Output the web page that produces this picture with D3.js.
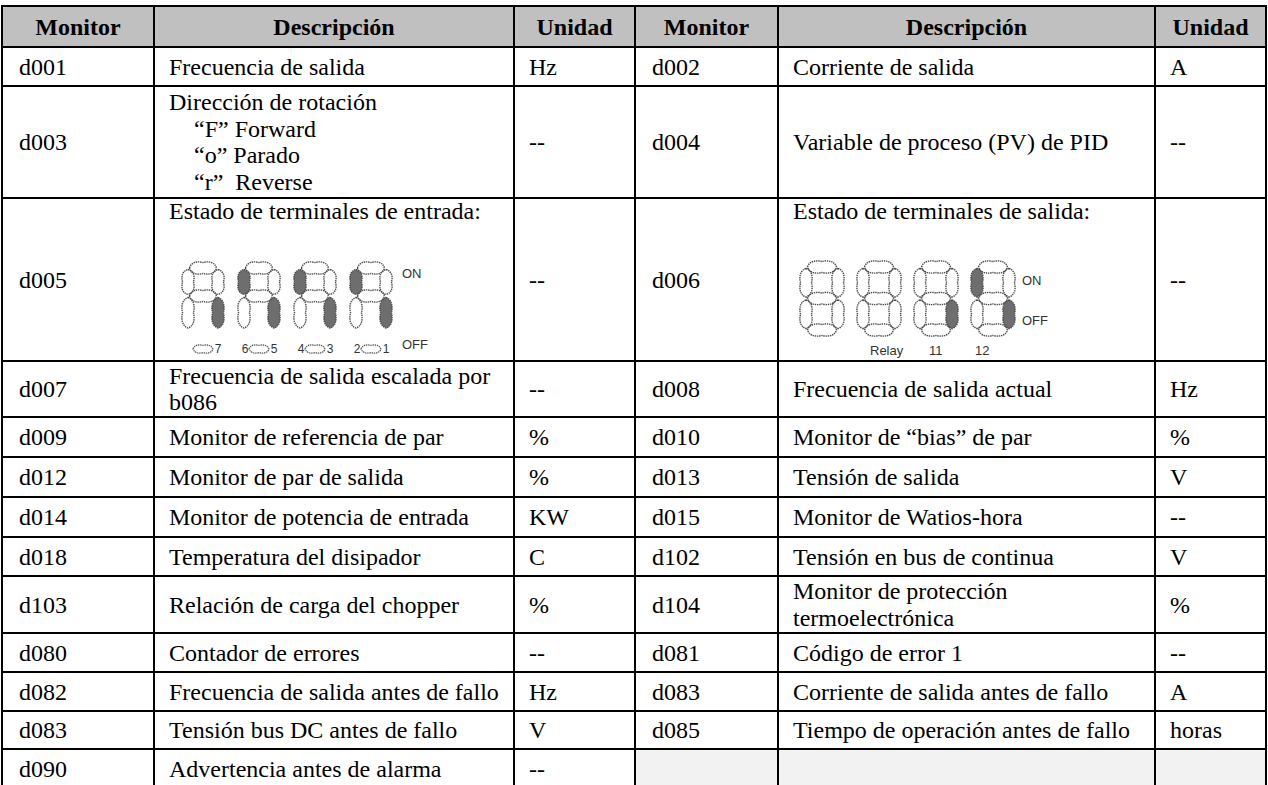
<!DOCTYPE html>
<html><head><meta charset="utf-8">
<script src="https://cdn.jsdelivr.net/npm/d3@7"></script>
<style>html,body{margin:0;padding:0;background:#fff;} svg{display:block;}</style>
</head><body>
<svg id="c" width="1268" height="785"></svg>
<script>
// ---------- data ----------
const headers = ["Monitor", "Descripción", "Unidad"];
const leftCodes = ["d001","d003","d005","d007","d009","d012","d014","d018","d103","d080","d082","d083","d090"];
const leftDesc = [
  ["Frecuencia de salida"],
  ["Dirección de rotación", "\u201CF\u201D Forward", "\u201Co\u201D Parado", "\u201Cr\u201D  Reverse"],
  ["Estado de terminales de entrada:"],
  ["Frecuencia de salida escalada por", "b086"],
  ["Monitor de referencia de par"],
  ["Monitor de par de salida"],
  ["Monitor de potencia de entrada"],
  ["Temperatura del disipador"],
  ["Relación de carga del chopper"],
  ["Contador de errores"],
  ["Frecuencia de salida antes de fallo"],
  ["Tensión bus DC antes de fallo"],
  ["Advertencia antes de alarma"]
];
const leftUnits = ["Hz","--","--","--","%","%","KW","C","%","--","Hz","V","--"];
const rightCodes = ["d002","d004","d006","d008","d010","d013","d015","d102","d104","d081","d083","d085",""];
const rightDesc = [
  ["Corriente de salida"],
  ["Variable de proceso (PV) de PID"],
  ["Estado de terminales de salida:"],
  ["Frecuencia de salida actual"],
  ["Monitor de \u201Cbias\u201D de par"],
  ["Tensión de salida"],
  ["Monitor de Watios-hora"],
  ["Tensión en bus de continua"],
  ["Monitor de protección", "termoelectrónica"],
  ["Código de error 1"],
  ["Corriente de salida antes de fallo"],
  ["Tiempo de operación antes de fallo"],
  []
];
const rightUnits = ["A","--","--","Hz","%","V","--","V","%","--","A","horas",""];
// 7-segment states (a top, b up-right, c low-right, d bottom, e low-left, f up-left, g middle)
const inputDigitsLit = [["c"], ["f","c"], ["f","c"], ["f","c"]];
const inputTermLabels = [["", "7"], ["6", "5"], ["4", "3"], ["2", "1"]];
const outputDigitsLit = [[], [], ["c"], ["f","c"]];
const outputTermLabels = ["Relay", "11", "12"];

// ---------- layout ----------
const rowEdges = [6, 47, 86, 198, 361, 417, 457, 497, 537, 576, 633, 672, 711, 749, 788];
const colEdges = [2, 154, 514, 635, 778, 1155, 1266];
const svg = d3.select("#c");
const serif = "'Liberation Serif','Times New Roman',serif";
const sans = "'Liberation Sans',Arial,sans-serif";
const FS = 24, PITCH = 26.5, PAD = 15;

svg.append("rect").attr("width",1268).attr("height",785).attr("fill","#fff");

svg.append("rect").attr("x",colEdges[0]).attr("y",rowEdges[0])
  .attr("width",colEdges[6]-colEdges[0]).attr("height",rowEdges[1]-rowEdges[0]).attr("fill","#c0c0c0");
const last = rowEdges.length-2;
svg.append("rect").attr("x",colEdges[3]).attr("y",rowEdges[last])
  .attr("width",colEdges[6]-colEdges[3]).attr("height",rowEdges[last+1]-rowEdges[last]).attr("fill","#f2f2f2");

const hdr = headers.concat(headers);
svg.append("g").selectAll("text").data(hdr).join("text")
  .attr("x",(d,i)=>(colEdges[i]+colEdges[i+1])/2)
  .attr("y",(rowEdges[0]+rowEdges[1])/2).attr("dy","0.34em")
  .attr("text-anchor","middle").attr("font-family",serif).attr("font-weight","bold")
  .attr("font-size",FS).attr("fill","#000").text(d=>d);

function cellText(g, x, y0, y1, lines, top) {
  const n = lines.length;
  const cy = (y0+y1)/2;
  lines.forEach((t,k)=>{
    let y = top ? y0 + 13 + k*PITCH : cy + (k-(n-1)/2)*PITCH;
    let xx = x;
    if (lines.length===4 && k>0) xx = x + 25;
    g.append("text").attr("x",xx).attr("y",y).attr("dy","0.34em")
      .attr("font-family",serif).attr("font-size",FS).attr("fill","#000")
      .attr("xml:space","preserve").style("white-space","pre").text(t);
  });
}

const body = svg.append("g");
function half(codes, descs, units, c0) {
  codes.forEach((code,i)=>{
    const y0 = rowEdges[i+1], y1 = rowEdges[i+2];
    if (code) cellText(body, colEdges[c0]+PAD+2, y0, y1, [code], false);
    const isDisplay = (code==="d005"||code==="d006");
    cellText(body, colEdges[c0+1]+PAD, y0, y1, descs[i], isDisplay);
    if (units[i]) cellText(body, colEdges[c0+2]+PAD, y0, y1, [units[i]], false);
  });
}
half(leftCodes, leftDesc, leftUnits, 0);
half(rightCodes, rightDesc, rightUnits, 3);

// ---------- 7-segment drawings ----------
function vSeg(cx, y1, y2, t) {
  const m = (y1+y2)/2;
  return `M${cx},${y1} C${cx+t*0.75},${y1+2} ${cx+t*0.75},${m-4} ${cx+t*0.6},${m} C${cx+t*0.75},${m+4} ${cx+t*0.75},${y2-2} ${cx},${y2} C${cx-t*0.75},${y2-2} ${cx-t*0.75},${m+4} ${cx-t*0.6},${m} C${cx-t*0.75},${m-4} ${cx-t*0.75},${y1+2} ${cx},${y1}Z`;
}
function hSeg(cy, x1, x2, t) {
  const m = (x1+x2)/2;
  return `M${x1},${cy} C${x1+2},${cy-t*0.75} ${m-4},${cy-t*0.75} ${m},${cy-t*0.6} C${m+4},${cy-t*0.75} ${x2-2},${cy-t*0.75} ${x2},${cy} C${x2-2},${cy+t*0.75} ${m+4},${cy+t*0.75} ${m},${cy+t*0.6} C${m-4},${cy+t*0.75} ${x1+2},${cy+t*0.75} ${x1},${cy}Z`;
}
function digit(g, x0, y0, W, H, lit, segs, pointed) {
  const t = 9, gap = 1.5;
  const geo = {
    a: hSeg(y0, x0+gap, x0+W-gap, t),
    g: hSeg(y0+H/2, x0+gap, x0+W-gap, t),
    d: hSeg(y0+H, x0+gap, x0+W-gap, t),
    f: vSeg(x0, y0+gap, y0+H/2-gap, t),
    b: vSeg(x0+W, y0+gap, y0+H/2-gap, t),
    e: vSeg(x0, y0+H/2+gap, y0+H+(pointed?4:-gap), t),
    c: vSeg(x0+W, y0+H/2+gap, y0+H+(pointed?4:-gap), t)
  };
  segs.forEach(s=>{
    g.append("path").attr("d",geo[s])
      .attr("fill", lit.includes(s) ? "#6e6e6e" : "none")
      .attr("stroke","#4a4a4a").attr("stroke-width",1.4).attr("stroke-dasharray","1.4,0.8");
  });
}
const seg = svg.append("g");
const inX = d3.scaleLinear().domain([0,3]).range([188,356]);
inputDigitsLit.forEach((lit,i)=>{
  const x0 = inX(i);
  digit(seg, x0, 268, 30, 56, lit, ["a","b","c","e","f","g"], true);
  seg.append("path").attr("d", hSeg(349, x0+5, x0+25, 6))
    .attr("fill","none").attr("stroke","#4a4a4a").attr("stroke-width",1.2).attr("stroke-dasharray","1.4,0.8");
  const [l,r] = inputTermLabels[i];
  if (l) seg.append("text").attr("x",x0+1).attr("y",349).attr("dy","0.36em").attr("text-anchor","middle")
    .attr("font-family",sans).attr("font-size",12).attr("fill","#333").text(l);
  seg.append("text").attr("x",x0+30).attr("y",349).attr("dy","0.36em").attr("text-anchor","middle")
    .attr("font-family",sans).attr("font-size",12).attr("fill","#333").text(r);
});
seg.append("text").attr("x",402).attr("y",273).attr("dy","0.36em").attr("font-family",sans)
  .attr("font-size",13).attr("fill","#333").text("ON");
seg.append("text").attr("x",402).attr("y",344).attr("dy","0.36em").attr("font-family",sans)
  .attr("font-size",13).attr("fill","#333").text("OFF");

const outX = d3.scaleLinear().domain([0,3]).range([806,977]);
outputDigitsLit.forEach((lit,i)=>{
  digit(seg, outX(i), 267, 32, 63, lit, ["a","b","c","d","e","f","g"], false);
});
seg.append("text").attr("x",1022).attr("y",280).attr("dy","0.36em").attr("font-family",sans)
  .attr("font-size",13).attr("fill","#333").text("ON");
seg.append("text").attr("x",1022).attr("y",320).attr("dy","0.36em").attr("font-family",sans)
  .attr("font-size",13).attr("fill","#333").text("OFF");
const relayX = [870, 929, 975];
outputTermLabels.forEach((t,i)=>{
  seg.append("text").attr("x",relayX[i]).attr("y",350).attr("dy","0.36em").attr("font-family",sans)
    .attr("font-size",13).attr("fill","#333").text(t);
});

// ---------- grid lines ----------
const grid = svg.append("g").attr("stroke","#000").attr("stroke-width",2);
grid.selectAll("line.h").data(rowEdges).join("line").attr("class","h")
  .attr("x1",colEdges[0]-1).attr("x2",colEdges[6]+1).attr("y1",d=>d).attr("y2",d=>d);
grid.selectAll("line.v").data(colEdges).join("line").attr("class","v")
  .attr("x1",d=>d).attr("x2",d=>d).attr("y1",rowEdges[0]-1).attr("y2",rowEdges[rowEdges.length-1]);
</script>
</body></html>
